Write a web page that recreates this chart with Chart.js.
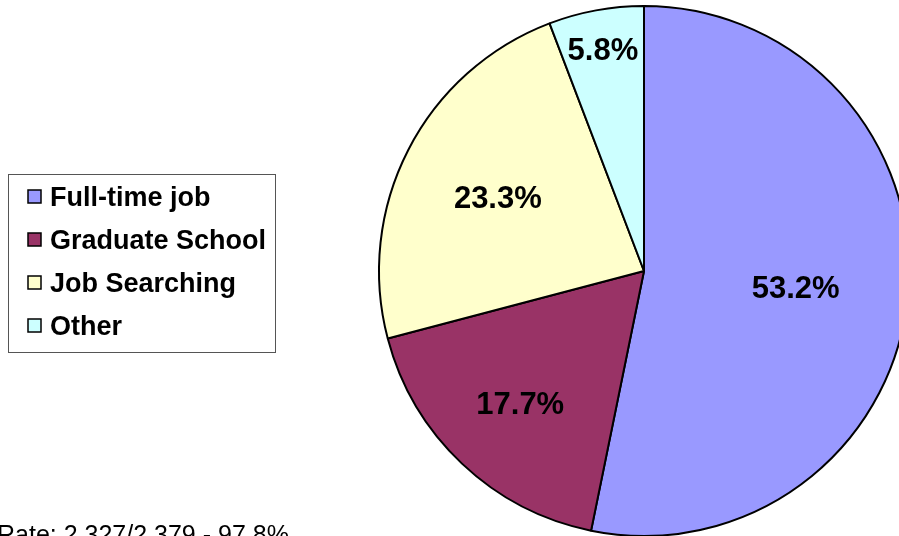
<!DOCTYPE html>
<html>
<head>
<meta charset="utf-8">
<script src="https://cdn.jsdelivr.net/npm/chart.js@4/dist/chart.umd.min.js"></script>
<style>
  html, body { margin: 0; padding: 0; background: #fff; overflow: hidden; }
  #wrap { position: relative; width: 899px; height: 536px; overflow: hidden; }
  #chart1 { position: absolute; left: 0; top: 0; }
</style>
</head>
<body>
<div id="wrap"><canvas id="chart1" width="920" height="545"></canvas></div>
<script>
const categories = ["Full-time job", "Graduate School", "Job Searching", "Other"];
const shares = [53.2, 17.7, 23.3, 5.8];
const sliceColors = ["#9999ff", "#993366", "#ffffcc", "#ccffff"];
const rateNote = "Rate: 2,327/2,379 - 97.8%";

// where each percent label sits, as a fraction of the radius
const labelDepth = [0.575, 0.68, 0.62, 0.855];

const sliceLabels = {
  id: "sliceLabels",
  afterDatasetsDraw(chart) {
    const ctx = chart.ctx;
    const arcs = chart.getDatasetMeta(0).data;
    const total = shares.reduce((a, b) => a + b, 0);
    ctx.save();
    ctx.font = "bold 31px 'Liberation Sans', Arial, sans-serif";
    ctx.fillStyle = "#000";
    ctx.textAlign = "center";
    ctx.textBaseline = "alphabetic";
    arcs.forEach((arc, i) => {
      const p = arc.getProps(["x", "y", "startAngle", "endAngle", "outerRadius"], true);
      const mid = (p.startAngle + p.endAngle) / 2;
      const r = p.outerRadius * labelDepth[i];
      const x = p.x + Math.cos(mid) * r;
      const y = p.y + Math.sin(mid) * r + 12;
      ctx.fillText((shares[i] / total * 100).toFixed(1) + "%", x, y);
    });
    ctx.restore();
  },
};

const boxLegend = {
  id: "boxLegend",
  afterDraw(chart) {
    const ctx = chart.ctx;
    ctx.save();
    ctx.strokeStyle = "#555";
    ctx.lineWidth = 1;
    ctx.strokeRect(8.5, 174.5, 267, 178);
    ctx.font = "bold 27px 'Liberation Sans', Arial, sans-serif";
    ctx.textBaseline = "alphabetic";
    categories.forEach((name, i) => {
      const base = 206 + i * 43;
      ctx.fillStyle = sliceColors[i];
      ctx.fillRect(28, base - 16, 13, 13);
      ctx.strokeStyle = "#000";
      ctx.lineWidth = 1.5;
      ctx.strokeRect(28, base - 16, 13, 13);
      ctx.fillStyle = "#000";
      ctx.fillText(name, 50, base);
    });
    ctx.font = "25px 'Liberation Sans', Arial, sans-serif";
    ctx.fillText(rateNote, -3, 543);
    ctx.restore();
  },
};

const chart1 = new Chart(document.getElementById("chart1").getContext("2d"), {
  type: "pie",
  data: {
    labels: categories,
    datasets: [
      {
        data: shares,
        backgroundColor: sliceColors,
        borderColor: "#000",
        borderWidth: 2,
        hoverOffset: 0,
      },
    ],
  },
  options: {
    responsive: false,
    animation: false,
    layout: { padding: { left: 378, right: 10, top: 5, bottom: 8 } },
    plugins: {
      legend: { display: false },
      tooltip: { enabled: false },
    },
  },
  plugins: [sliceLabels, boxLegend],
});
</script>
</body>
</html>
